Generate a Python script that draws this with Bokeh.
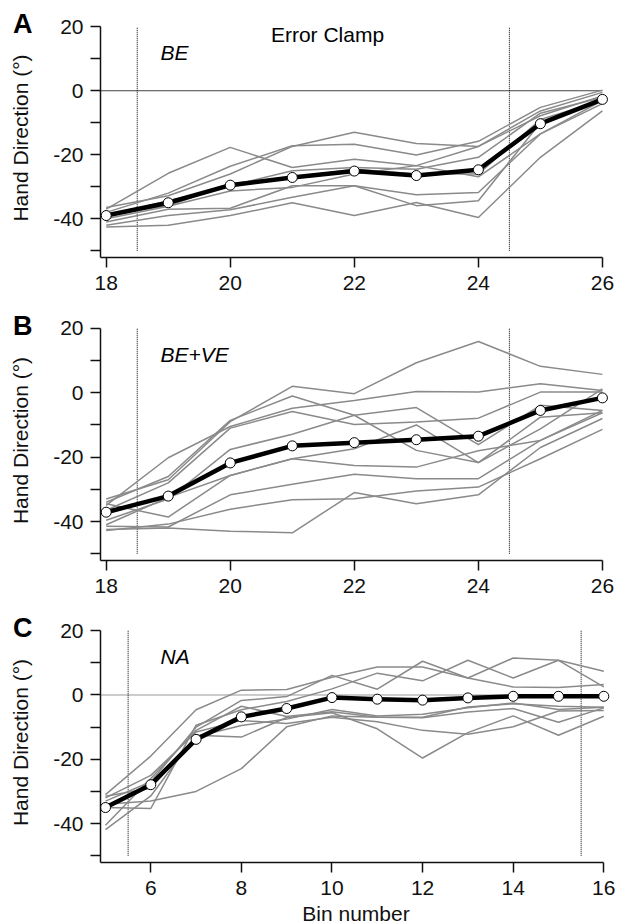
from bokeh.plotting import figure
from bokeh.layouts import column
from bokeh.models import Range1d, FixedTicker, Label, LinearAxis
from bokeh.embed import file_html
from bokeh.resources import INLINE

# ---------------- data ----------------
bins_ab = [18, 19, 20, 21, 22, 23, 24, 25, 26]
xticks_ab = [18, 20, 22, 24, 26]
clamp_ab = [18.5, 24.5]

mean_a = [-39.0, -35.0, -29.5, -27.1, -25.1, -26.5, -24.7, -10.3, -2.7]
subj_a1 = [-37.0, -25.8, -17.7, -24.0, -21.4, -23.4, -17.4, -6.3, -0.5]
subj_a2 = [-38.0, -32.0, -23.6, -17.2, -16.7, -20.1, -15.8, -5.2, 0.2]
subj_a3 = [-36.5, -32.8, -26.0, -17.4, -13.0, -16.5, -17.4, -7.8, -1.6]
subj_a4 = [-39.0, -34.4, -29.7, -25.0, -24.0, -24.5, -20.8, -7.0, -2.0]
subj_a5 = [-40.0, -36.1, -31.3, -30.2, -26.0, -23.4, -26.9, -13.5, -3.1]
subj_a6 = [-41.0, -37.0, -36.7, -29.7, -29.7, -32.5, -31.8, -13.5, -4.0]
subj_a7 = [-42.6, -42.0, -39.0, -35.0, -39.0, -34.9, -39.6, -20.8, -6.3]
subj_a8 = [-42.0, -39.0, -37.2, -33.3, -29.7, -35.9, -34.4, -10.0, -2.6]
subj_a9 = [-38.5, -36.0, -29.0, -27.0, -24.5, -26.0, -26.0, -9.0, -3.0]

mean_b = [-37.1, -32.1, -21.8, -16.5, -15.5, -14.6, -13.5, -5.5, -1.6]
subj_b1 = [-33.0, -27.0, -9.0, 2.0, -0.3, 9.3, 15.9, 8.2, 5.7]
subj_b2 = [-34.0, -26.0, -8.6, -1.0, -7.0, -17.9, -21.7, -11.2, 1.2]
subj_b3 = [-35.0, -20.2, -10.5, -4.8, -2.4, 0.4, 0.2, 2.8, 0.7]
subj_b4 = [-36.5, -28.0, -11.0, -5.8, -9.9, -9.1, -7.9, 0.2, 0.2]
subj_b5 = [-39.6, -33.0, -17.6, -12.9, -7.0, -4.6, -16.1, -3.9, -5.5]
subj_b6 = [-34.5, -38.6, -25.7, -20.5, -17.4, -10.0, -21.7, -7.6, -6.2]
subj_b7 = [-41.0, -32.5, -25.7, -20.5, -22.6, -23.1, -18.0, -14.8, -5.5]
subj_b8 = [-41.5, -41.7, -31.7, -28.4, -25.3, -26.7, -26.7, -14.8, -6.2]
subj_b9 = [-42.8, -40.8, -36.2, -33.2, -32.9, -30.5, -29.3, -20.5, -11.4]
subj_b10 = [-42.5, -42.0, -43.0, -43.5, -31.0, -34.5, -31.7, -17.0, -8.0]

bins_c = [5, 6, 7, 8, 9, 10, 11, 12, 13, 14, 15, 16]
xticks_c = [6, 8, 10, 12, 14, 16]
clamp_c = [5.5, 15.5]
mean_c = [-35.0, -27.9, -13.8, -6.8, -4.2, -0.8, -1.3, -1.6, -0.9, -0.4, -0.4, -0.4]
subj_c1 = [-31.0, -19.0, -4.6, 1.5, 1.7, 5.5, 8.7, 8.7, 5.3, 11.5, 10.8, 7.4]
subj_c2 = [-33.0, -27.0, -10.0, -1.7, -0.5, 6.1, 1.8, 10.5, 5.3, 2.5, 2.3, 3.3]
subj_c3 = [-35.0, -35.3, -9.4, -4.6, -2.0, 1.9, 6.8, 4.4, 10.8, 5.3, 10.8, 2.5]
subj_c4 = [-40.5, -26.0, -11.0, -3.5, -6.7, -5.2, -6.9, -6.9, -3.7, -2.7, -3.5, -3.8]
subj_c5 = [-41.9, -31.4, -12.5, -13.1, -7.0, -5.5, -10.5, -19.6, -11.7, -6.5, -12.5, -6.6]
subj_c6 = [-32.0, -25.0, -11.5, -7.9, -8.9, -6.9, -8.3, -11.0, -12.2, -9.9, -5.0, -4.8]
subj_c7 = [-34.0, -33.0, -30.0, -22.9, -9.9, -6.5, -6.9, -7.1, -5.3, -4.2, -8.5, -4.0]
subj_c8 = [-31.5, -29.0, -13.0, -9.5, -7.5, -4.5, -6.5, -6.0, -4.0, -2.5, -4.5, -3.8]

yticks = [-50, -40, -30, -20, -10, 0, 10, 20]
ylabels = {-50: "", -40: "-40", -30: "", -20: "-20", -10: "", 0: "0", 10: "", 20: "20"}
ylabel_text = "Hand Direction (°)"

FONT = "Liberation Sans"
GRAY = "#8a8a8a"


def panel(bins, mean, subjects, xticks, clamp, x_start, x_end, y_start, y_end,
          frame_w, frame_h, left, top, bottom, letter, tag, zero_color,
          xlabel=None, title=None):
    p = figure(frame_width=frame_w, frame_height=frame_h,
               x_range=Range1d(x_start, x_end), y_range=Range1d(y_start, y_end),
               output_backend="svg", toolbar_location=None,
               min_border_left=left, min_border_right=20, min_border_top=top,
               min_border_bottom=bottom)
    p.outline_line_color = None
    p.xgrid.visible = False
    p.ygrid.visible = False

    for ax in (p.xaxis[0], p.yaxis[0]):
        ax.axis_line_width = 1.5
        ax.axis_line_color = "#111111"
        ax.major_tick_line_width = 1.5
        ax.major_tick_line_color = "#111111"
        ax.major_tick_in = 0
        ax.major_tick_out = 10
        ax.minor_tick_line_color = None
        ax.major_label_text_font = FONT
        ax.major_label_text_font_size = "21px"
        ax.major_label_text_color = "#111111"
        ax.axis_label_text_font = FONT
        ax.axis_label_text_font_size = "21px"
        ax.axis_label_text_font_style = "normal"
        ax.axis_label_text_color = "#111111"

    p.xaxis.ticker = FixedTicker(ticks=xticks)
    p.xaxis.bounds = (x_start, bins[-1])
    p.xaxis.major_label_standoff = 8
    p.yaxis.ticker = FixedTicker(ticks=yticks)
    p.yaxis.major_label_overrides = ylabels
    p.yaxis.bounds = (y_start, yticks[-1])
    p.yaxis.major_label_standoff = 7
    if xlabel:
        p.xaxis.axis_label = xlabel
        p.xaxis.axis_label_standoff = 4

    # outer left axis: carries the panel letter (near the top tick) and the y label
    letter_pos = yticks[-1] + 1
    outer = LinearAxis(ticker=FixedTicker(ticks=[letter_pos]),
                       major_label_overrides={letter_pos: letter},
                       axis_line_color=None, major_tick_line_color=None,
                       minor_tick_line_color=None, major_tick_in=0,
                       major_tick_out=0, major_label_standoff=18,
                       major_label_text_font=FONT,
                       major_label_text_font_size="27px",
                       major_label_text_font_style="bold",
                       major_label_text_color="black",
                       axis_label=ylabel_text, axis_label_standoff=-22,
                       axis_label_text_font=FONT,
                       axis_label_text_font_size="21px",
                       axis_label_text_font_style="normal",
                       axis_label_text_color="#111111")
    p.add_layout(outer, "left")

    if zero_color:
        p.segment(x0=[x_start], y0=[0], x1=[bins[-1]], y1=[0],
                  line_color=zero_color, line_width=1)

    for c in clamp:
        p.segment(x0=[c], y0=[yticks[0]], x1=[c], y1=[yticks[-1]],
                  line_color="black", line_width=1, line_dash="1 1")

    for s in subjects:
        p.line(bins, s, line_color=GRAY, line_width=1.5)

    p.line(bins, mean, line_color="black", line_width=4.5, line_join="round")
    p.scatter(bins, mean, size=10, fill_color="white", line_color="black",
              line_width=1)

    px_per_x = frame_w / (x_end - x_start)
    p.add_layout(Label(x=x_start + 60 / px_per_x, y=12.0, text=tag,
                       text_font=FONT, text_font_size="21px",
                       text_font_style="italic", text_align="left",
                       text_baseline="alphabetic", text_color="black"))
    if title:
        p.add_layout(Label(x=x_start + 227 / px_per_x, y=17.7, text=title,
                           text_font=FONT, text_font_size="21px",
                           text_align="center", text_baseline="alphabetic",
                           text_color="black"))
    return p


pa = panel(bins_ab, mean_a,
           [subj_a1, subj_a2, subj_a3, subj_a4, subj_a5, subj_a6, subj_a7, subj_a8, subj_a9],
           xticks_ab, clamp_ab, 17.908, 26.13, -52.109, 22.578, 510, 239, 100, 18, 53,
           "A", "BE", "#444444", title="Error Clamp")
pb = panel(bins_ab, mean_b,
           [subj_b1, subj_b2, subj_b3, subj_b4, subj_b5, subj_b6, subj_b7, subj_b8, subj_b9, subj_b10],
           xticks_ab, clamp_ab, 17.908, 26.13, -52.1, 22.43, 510, 240, 100, 10, 52,
           "B", "BE+VE", None)
pc = panel(bins_c, mean_c,
           [subj_c1, subj_c2, subj_c3, subj_c4, subj_c5, subj_c6, subj_c7, subj_c8],
           xticks_c, clamp_c, 4.89, 16.17, -52.10, 22.55, 511, 240, 99, 10, 60,
           "C", "NA", "#999999", xlabel="Bin number")

layout = column(pa, pb, pc, spacing=0)
open("out.html", "w").write(file_html(layout, INLINE))
